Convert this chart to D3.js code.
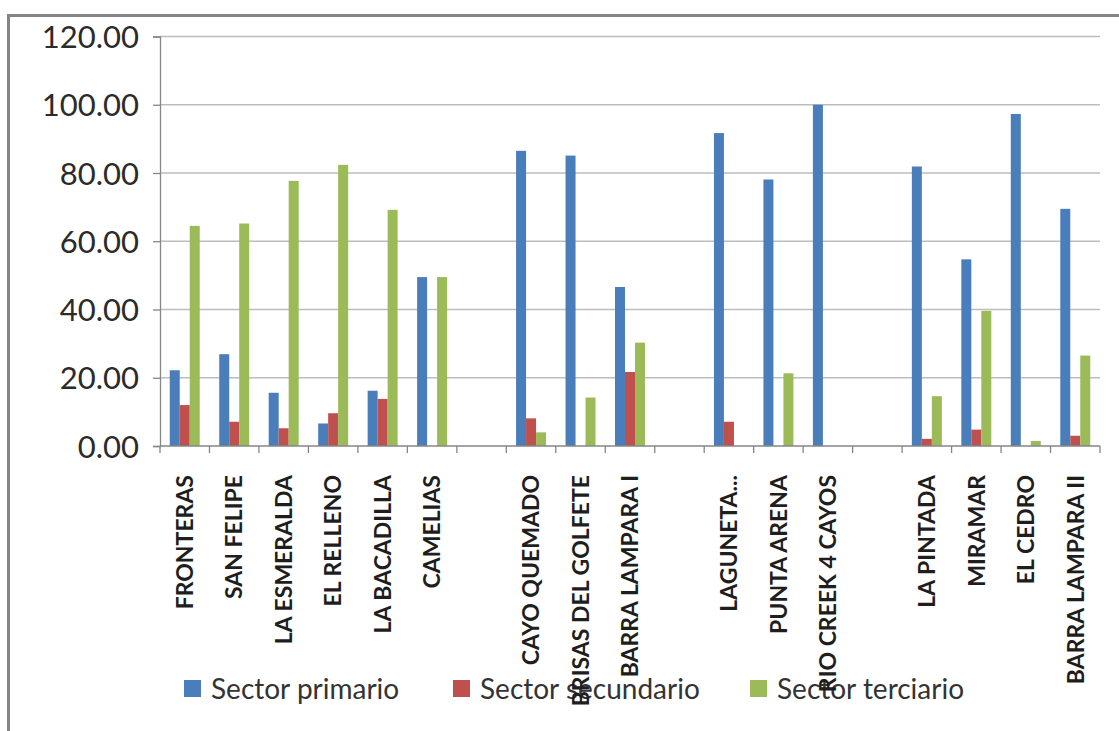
<!DOCTYPE html>
<html>
<head>
<meta charset="utf-8">
<script src="https://cdn.jsdelivr.net/npm/d3@7"></script>
<style>
  html, body { margin: 0; padding: 0; background: #fff; }
  svg { display: block; }
</style>
</head>
<body>
<svg id="chart" width="1119" height="731"></svg>
<script>
// ---- data ----
const categories = [
  "FRONTERAS", "SAN FELIPE", "LA ESMERALDA", "EL RELLENO", "LA BACADILLA", "CAMELIAS",
  "",
  "CAYO QUEMADO", "BRISAS DEL GOLFETE", "BARRA LAMPARA I",
  "",
  "LAGUNETA...", "PUNTA ARENA", "RIO CREEK 4 CAYOS",
  "",
  "LA PINTADA", "MIRAMAR", "EL CEDRO", "BARRA LAMPARA II"
];
const seriesNames = ["Sector primario", "Sector secundario", "Sector terciario"];
const primario   = [22.2, 26.9, 15.6, 6.6, 16.2, 49.5, null, 86.5, 85.1, 46.6, null, 91.7, 78.1, 100.0, null, 81.9, 54.7, 97.3, 69.5];
const secundario = [12.0, 7.1, 5.2, 9.6, 13.8, 0, null, 8.1, 0, 21.7, null, 7.1, 0, 0, null, 2.1, 4.8, 0, 3.0];
const terciario  = [64.5, 65.2, 77.7, 82.4, 69.2, 49.5, null, 4.0, 14.2, 30.3, null, 0, 21.3, 0, null, 14.6, 39.6, 1.5, 26.5];
const yTicks = [0, 20, 40, 60, 80, 100, 120];
const colors = ["#4A7EBB", "#C0504D", "#9BBB59"];
const seriesValues = [primario, secundario, terciario];

// ---- layout ----
const svg = d3.select("#chart");
const pLeft = 160, pRight = 1100, pTop = 36.5, pBottom = 446;

// frame (cut off at right/bottom as in the reference)
svg.append("rect")
  .attr("x", 8.5).attr("y", 15.5).attr("width", 1300).attr("height", 900)
  .attr("fill", "none").attr("stroke", "#858585").attr("stroke-width", 3);

const y = d3.scaleLinear().domain([0, 120]).range([pBottom, pTop]);
const x = d3.scaleBand().domain(d3.range(categories.length)).range([pLeft, pRight]).paddingInner(0).paddingOuter(0);
const bw = x.bandwidth();
const xs = d3.scaleBand().domain(d3.range(seriesNames.length))
  .range([bw * 0.197, bw * 0.803]).paddingInner(0);

// gridlines
svg.append("g").selectAll("line").data(yTicks.filter(d => d > 0)).join("line")
  .attr("x1", pLeft).attr("x2", pRight)
  .attr("y1", d => y(d)).attr("y2", d => y(d))
  .attr("stroke", "#bdbdbd").attr("stroke-width", 1.6);

// y axis
const yAxis = svg.append("g").attr("transform", `translate(${pLeft},0)`)
  .call(d3.axisLeft(y).tickValues(yTicks).tickFormat(d3.format(".2f")).tickSize(7).tickPadding(14));
yAxis.select(".domain").attr("stroke", "#868686").attr("stroke-width", 1.3);
yAxis.selectAll(".tick line").attr("stroke", "#868686").attr("stroke-width", 1.3);
yAxis.selectAll("text").attr("font-family", "Lato, sans-serif").attr("font-size", 31)
  .attr("fill", "#2b2b2b").attr("dy", "0.36em");

// bars
const bars = svg.append("g");
seriesValues.forEach((vals, si) => {
  bars.append("g").selectAll("rect")
    .data(vals.map((v, i) => ({ v, i })).filter(d => d.v != null && d.v > 0))
    .join("rect")
    .attr("x", d => x(d.i) + xs(si))
    .attr("width", xs.bandwidth())
    .attr("y", d => y(d.v))
    .attr("height", d => y(0) - y(d.v))
    .attr("fill", colors[si]);
});

// x axis
const xAxisG = svg.append("g").attr("transform", `translate(0,${pBottom})`);
xAxisG.append("line").attr("x1", pLeft).attr("x2", pRight).attr("y1", 0).attr("y2", 0)
  .attr("stroke", "#868686").attr("stroke-width", 1.3);
const boundaries = d3.range(categories.length + 1).map(i => i < categories.length ? x(i) : pRight);
xAxisG.selectAll("line.tk").data(boundaries).join("line").attr("class", "tk")
  .attr("x1", d => d).attr("x2", d => d).attr("y1", 0).attr("y2", 7)
  .attr("stroke", "#868686").attr("stroke-width", 1.3);

// legend
const legendX = [184, 453, 750];
const legend = svg.append("g");
seriesNames.forEach((name, i) => {
  legend.append("rect").attr("x", legendX[i]).attr("y", 680).attr("width", 17).attr("height", 17)
    .attr("fill", colors[i]);
  legend.append("text").attr("x", legendX[i] + 27).attr("y", 699)
    .attr("font-family", "Lato, sans-serif").attr("font-size", 28).attr("fill", "#333")
    .text(name);
});

// category labels (drawn last, rotated)
svg.append("g").selectAll("text").data(categories.map((c, i) => ({ c, i })).filter(d => d.c))
  .join("text")
  .attr("transform", d => `translate(${x(d.i) + bw / 2},475) rotate(-90)`)
  .attr("text-anchor", "end").attr("dy", "0.36em")
  .attr("font-family", "Lato, sans-serif").attr("font-weight", "bold").attr("font-size", 23)
  .attr("fill", "#1e1e1e")
  .text(d => d.c);
</script>
</body>
</html>
